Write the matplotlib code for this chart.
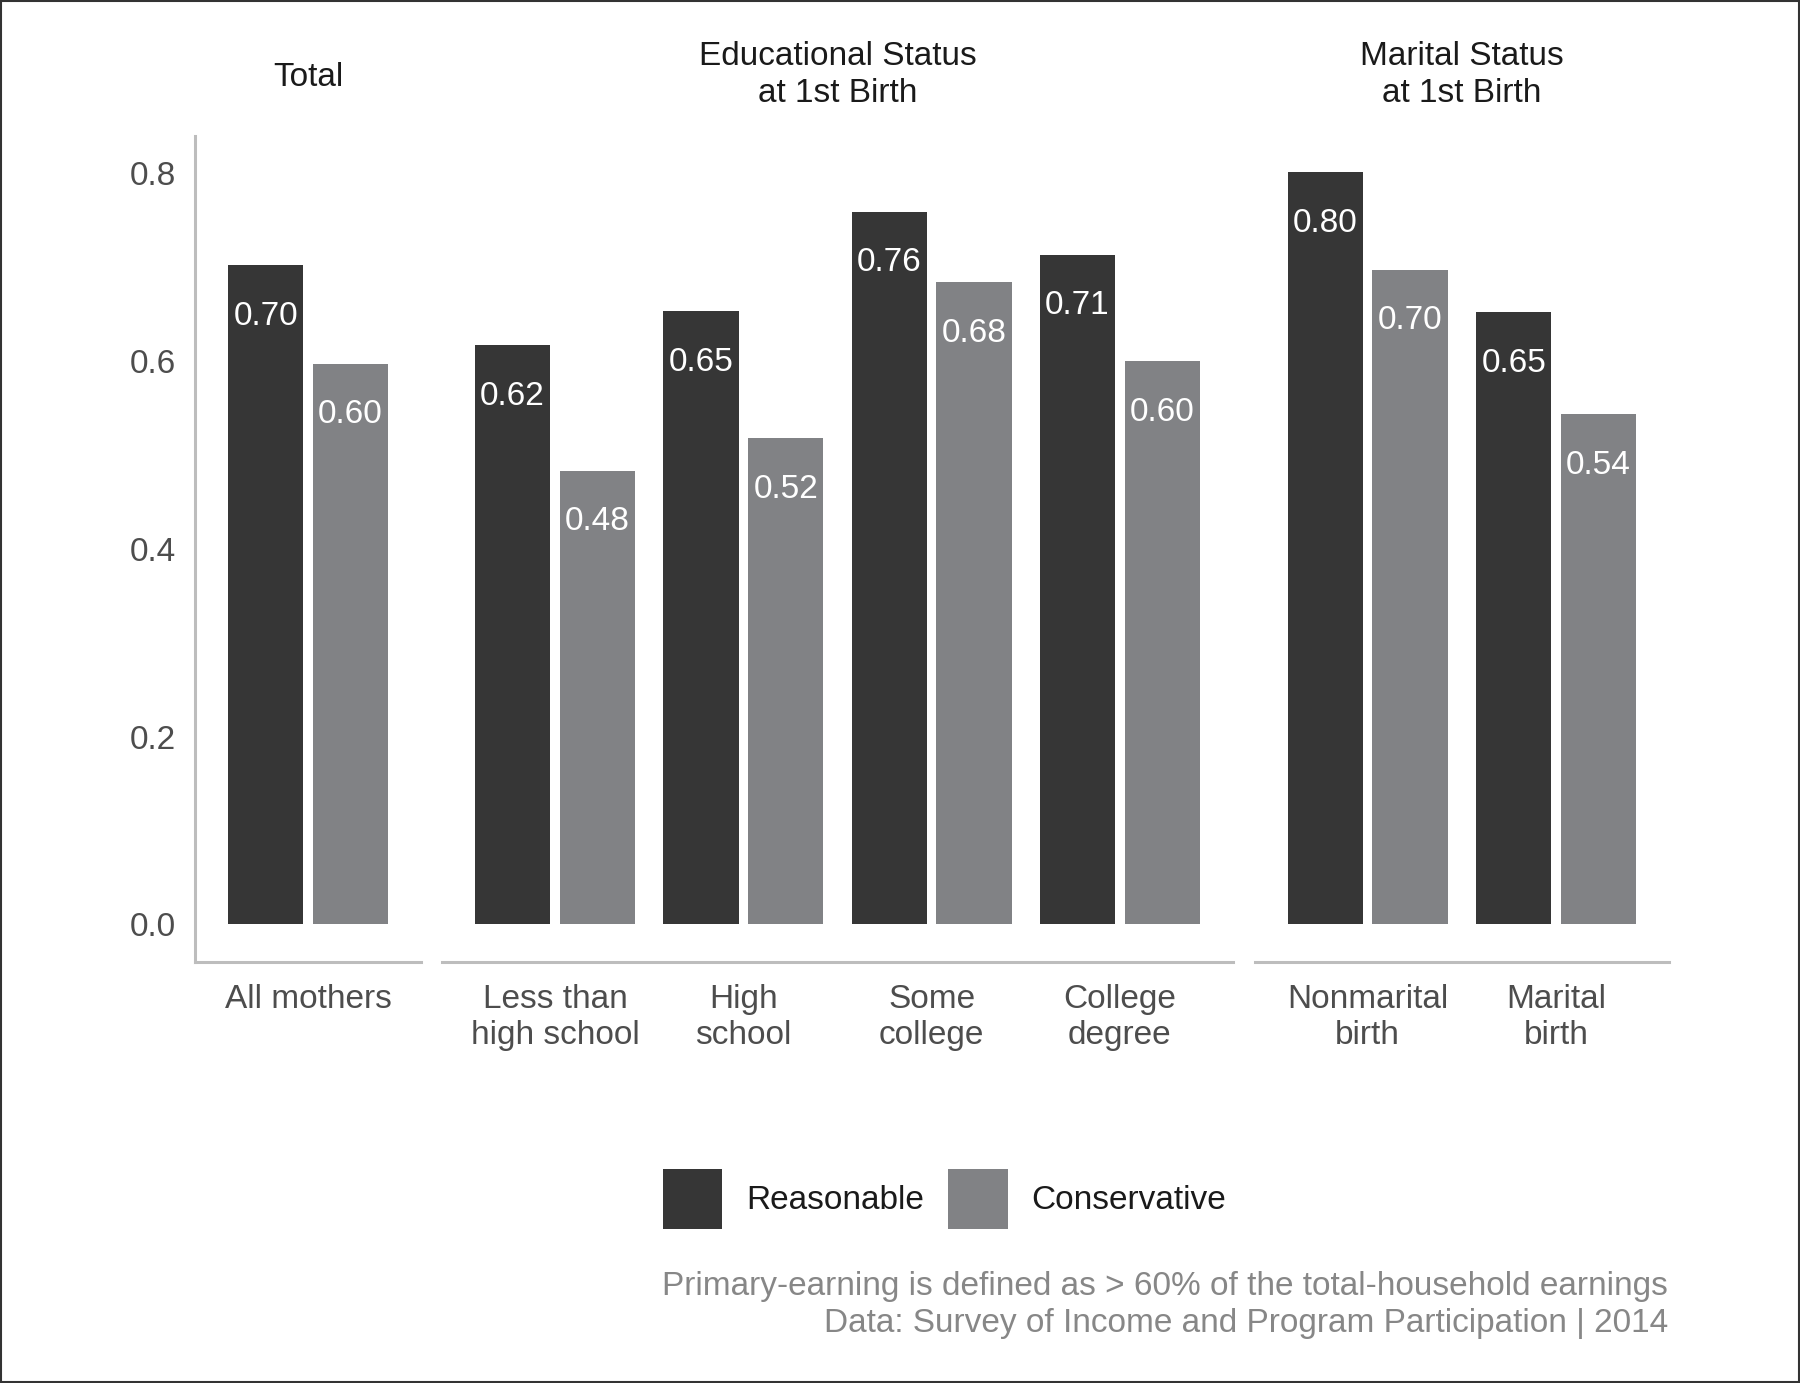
import matplotlib
matplotlib.use("Agg")
import matplotlib.pyplot as plt
from matplotlib.patches import Patch, Rectangle

plt.rcParams['font.family'] = ['Liberation Sans', 'DejaVu Sans']

# data
panel_titles = ["Total", "Educational Status\nat 1st Birth", "Marital Status\nat 1st Birth"]
panel_cats = [
    ["All mothers"],
    ["Less than\nhigh school", "High\nschool", "Some\ncollege", "College\ndegree"],
    ["Nonmarital\nbirth", "Marital\nbirth"],
]
reasonable = [[0.702], [0.617, 0.653, 0.759, 0.713], [0.801, 0.652]]
conservative = [[0.597], [0.483, 0.518, 0.684, 0.600], [0.697, 0.543]]
series_names = ["Reasonable", "Conservative"]
colors = ["#363636", "#818285"]
caption = ("Primary-earning is defined as > 60% of the total-household earnings\n"
           "Data: Survey of Income and Program Participation | 2014")

W, H = 1800, 1383
fig = plt.figure(figsize=(W / 100, H / 100), dpi=100)

unit = 188.3  # px per category
left_px = [195.2, 442.0, 1254.8]
bottom = 1 - 962 / H
height = (962 - 135.5) / H
fs = 24
spine_col = "#bdbdbd"

axes = []
for p in range(3):
    n = len(panel_cats[p])
    ax = fig.add_axes([left_px[p] / W, bottom, (n + 0.2) * unit / W, height])
    axes.append(ax)
    xs = list(range(n))
    ax.bar([x - 0.225 for x in xs], reasonable[p], width=0.4, color=colors[0])
    ax.bar([x + 0.225 for x in xs], conservative[p], width=0.4, color=colors[1])
    for x, v in zip(xs, reasonable[p]):
        ax.text(x - 0.225, v - 0.0635, f"{v:.2f}", ha="center", va="baseline",
                color="white", fontsize=fs)
    for x, v in zip(xs, conservative[p]):
        ax.text(x + 0.225, v - 0.0635, f"{v:.2f}", ha="center", va="baseline",
                color="white", fontsize=fs)
    ax.set_xlim(-0.6, n - 1 + 0.6)
    ax.set_ylim(-0.04, 0.84)
    ax.set_xticks(xs)
    ax.set_xticklabels(panel_cats[p], fontsize=fs, color="#4d4d4d", linespacing=1.2)
    ax.tick_params(axis="x", length=0, pad=16)
    for s in ["top", "right"]:
        ax.spines[s].set_visible(False)
    ax.spines["bottom"].set_color(spine_col)
    ax.spines["bottom"].set_linewidth(2.2)
    if p == 0:
        ax.spines["left"].set_color(spine_col)
        ax.spines["left"].set_linewidth(2.2)
        ax.set_yticks([0, 0.2, 0.4, 0.6, 0.8])
        ax.set_yticklabels(["0.0", "0.2", "0.4", "0.6", "0.8"], fontsize=fs, color="#4d4d4d")
        ax.tick_params(axis="y", length=0, pad=14)
    else:
        ax.spines["left"].set_visible(False)
        ax.set_yticks([])
    cx = (left_px[p] + (n + 0.2) * unit / 2) / W
    ty = 78 if n == 1 else 75
    fig.text(cx, 1 - ty / H, panel_titles[p], ha="center", va="center",
             fontsize=fs, color="#1a1a1a", linespacing=1.22)

handles = [Patch(facecolor=c, edgecolor="none", label=l) for c, l in zip(colors, series_names)]
fig.legend(handles=handles, loc="center", bbox_to_anchor=(0.5247, 1 - 1199 / H),
           ncol=2, frameon=False, fontsize=fs, handlelength=1.78, handleheight=2.36,
           handletextpad=0.72, columnspacing=0.73, borderpad=0, labelcolor="#1a1a1a")

fig.text(1668 / W, 1 - 1305 / H, caption, ha="right", va="center", fontsize=fs,
         color="#878787", linespacing=1.25)

fig.add_artist(Rectangle((0.0005, 0.0005), 0.999, 0.999, transform=fig.transFigure,
                         fill=False, edgecolor="#333333", linewidth=1.5))

fig.savefig("out.png", dpi=100)
